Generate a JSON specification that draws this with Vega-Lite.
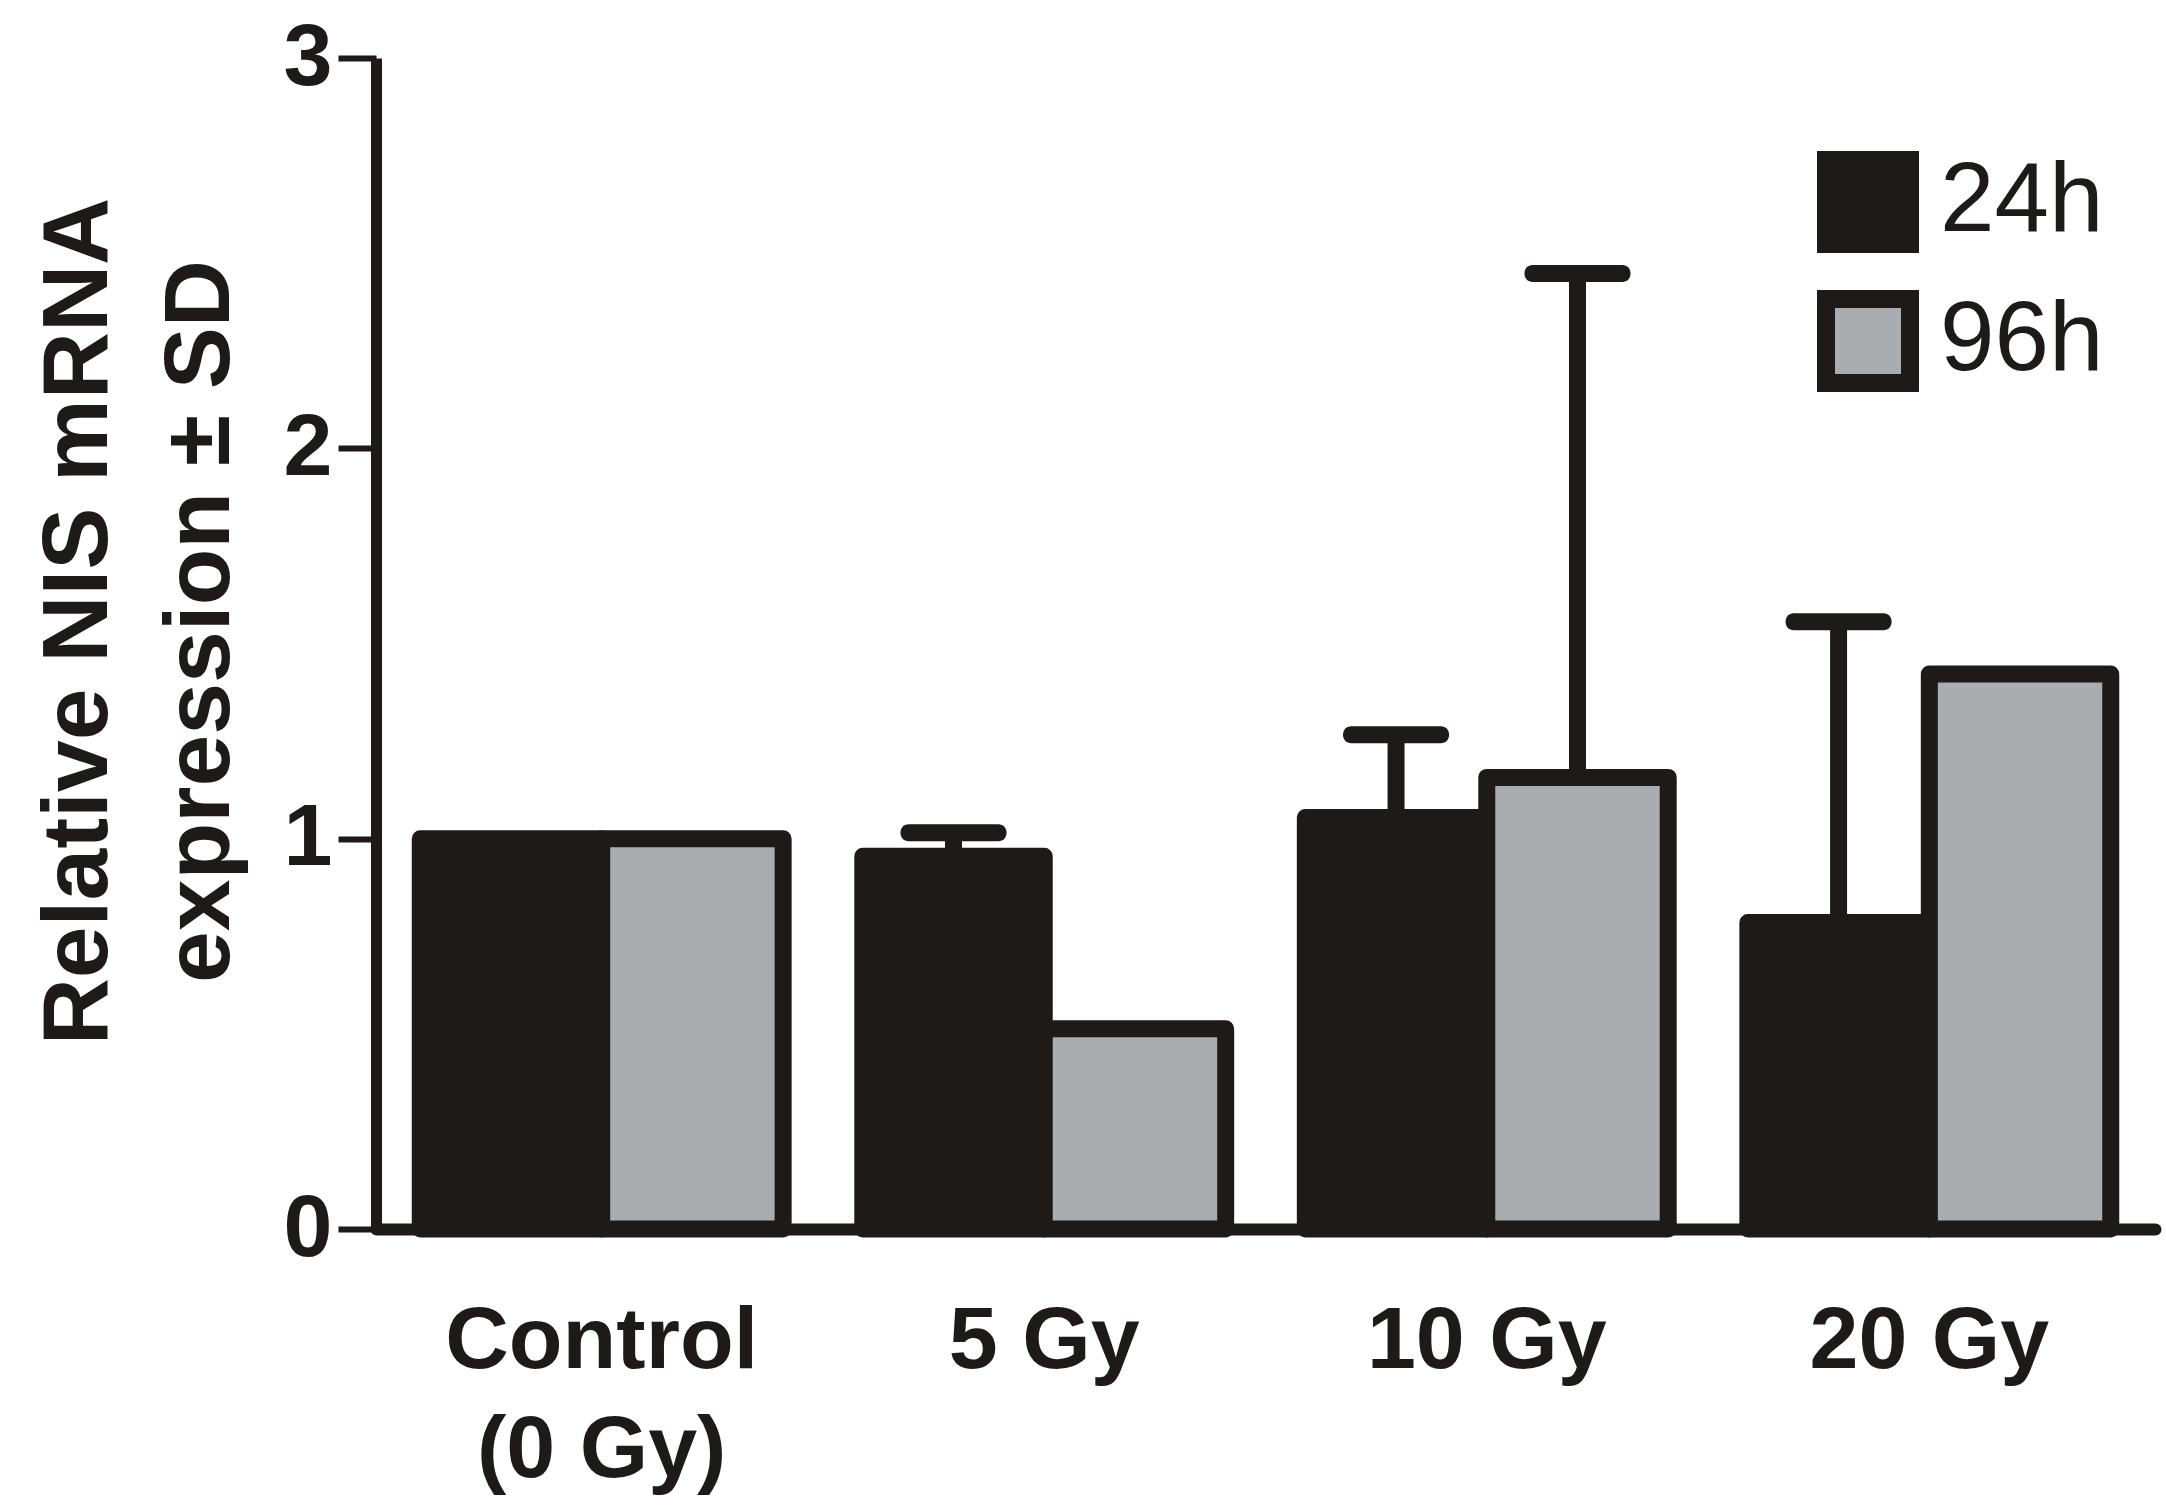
{
  "$schema": "https://vega.github.io/schema/vega-lite/v6.json",
  "description": "Relative NIS mRNA expression after irradiation, 24h and 96h",
  "autosize": {"type": "none"},
  "padding": {"left": 376, "top": 58, "right": 11, "bottom": 277},
  "width": 1779,
  "height": 1171,
  "background": "white",
  "config": {
    "view": {"stroke": "transparent"},
    "font": "Liberation Sans"
  },
  "data": {
    "values": [
      {"dose": "Control", "time": "24h", "value": 1.0, "upper": null},
      {"dose": "Control", "time": "96h", "value": 1.0, "upper": null},
      {"dose": "5 Gy", "time": "24h", "value": 0.955, "upper": 1.015},
      {"dose": "5 Gy", "time": "96h", "value": 0.513, "upper": null},
      {"dose": "10 Gy", "time": "24h", "value": 1.054, "upper": 1.266},
      {"dose": "10 Gy", "time": "96h", "value": 1.157, "upper": 2.448},
      {"dose": "20 Gy", "time": "24h", "value": 0.785, "upper": 1.556},
      {"dose": "20 Gy", "time": "96h", "value": 1.422, "upper": null}
    ]
  },
  "encoding": {
    "x": {
      "field": "dose", "type": "nominal", "sort": null,
      "scale": {"paddingInner": 0.18, "paddingOuter": 0.1},
      "axis": {
        "title": null, "labelAngle": 0, "ticks": false, "labelLimit": 0, "zindex": 1,
        "labelExpr": "datum.value == 'Control' ? ['Control', '(0 Gy)'] : datum.value",
        "labelFont": "Liberation Sans", "labelFontWeight": "bold", "labelFontSize": 88,
        "labelColor": "#1e1a19", "labelPadding": 68, "labelLineHeight": 109,
        "labelBaseline": "top",
        "domainColor": "#1e1a19", "domainWidth": 12, "domainCap": "round"
      }
    },
    "xOffset": {"field": "time", "type": "nominal", "scale": {"paddingInner": 0, "paddingOuter": 0}},
    "y": {
      "field": "value", "type": "quantitative",
      "scale": {"domain": [0, 3], "nice": false},
      "axis": {
        "values": [0, 1, 2, 3], "grid": false,
        "title": ["Relative NIS mRNA", "expression ± SD"],
        "titleFont": "Liberation Sans", "titleFontWeight": "bold", "titleFontSize": 93,
        "titleColor": "#1e1a19", "titleLineHeight": 122, "titleLimit": 0,
        "titleAngle": -90, "titleAlign": "center", "titleBaseline": "middle",
        "titleX": -298, "titleY": 563,
        "labelFont": "Liberation Sans", "labelFontWeight": "bold", "labelFontSize": 88,
        "labelColor": "#1e1a19", "labelPadding": 6,
        "tickSize": 38, "tickWidth": 6, "tickColor": "#1e1a19",
        "domainColor": "#1e1a19", "domainWidth": 11
      }
    }
  },
  "layer": [
    {
      "mark": {"type": "bar", "stroke": "#1e1a19", "strokeWidth": 17, "strokeJoin": "round"},
      "encoding": {
        "color": {
          "field": "time", "type": "nominal",
          "scale": {"domain": ["24h", "96h"], "range": ["#1e1a19", "#abacaf"]},
          "legend": {
            "title": null, "orient": "none", "legendX": 1441, "legendY": 93,
            "symbolType": "square", "symbolSize": 7056,
            "symbolStrokeColor": "#1e1a19", "symbolStrokeWidth": 18,
            "labelFont": "Liberation Sans", "labelFontSize": 98, "labelColor": "#1e1a19",
            "labelOffset": 21, "rowPadding": -17, "labelLimit": 0
          }
        }
      }
    },
    {
      "transform": [{"filter": "isValid(datum.upper)"}],
      "mark": {"type": "rule", "stroke": "#1e1a19", "strokeWidth": 17},
      "encoding": {"y2": {"field": "upper"}}
    },
    {
      "transform": [{"filter": "isValid(datum.upper)"}],
      "mark": {"type": "tick", "color": "#1e1a19", "size": 106, "thickness": 17, "cornerRadius": 8, "opacity": 1},
      "encoding": {"y": {"field": "upper", "type": "quantitative"}}
    }
  ]
}
